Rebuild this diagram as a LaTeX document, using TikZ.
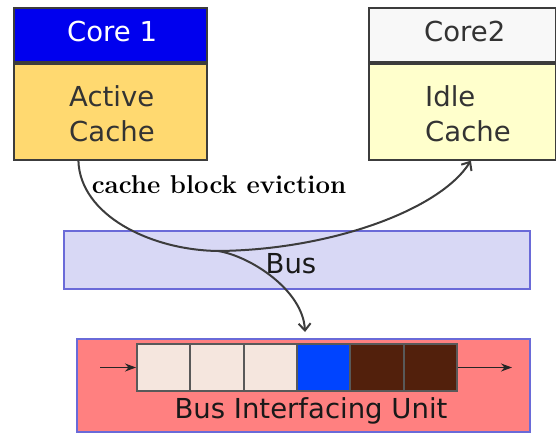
\documentclass[tikz,border=0pt]{standalone}
\usepackage{fontspec}
\newfontfamily\diagfont{DejaVu Sans}
\definecolor{coreblue}{HTML}{0000EE}
\definecolor{activegold}{HTML}{FFD970}
\definecolor{idlecream}{HTML}{FFFFCC}
\definecolor{headgray}{HTML}{F8F8F8}
\definecolor{buslilac}{HTML}{D8D8F5}
\definecolor{biured}{HTML}{FF8080}
\definecolor{edgeblue}{HTML}{6A6AD8}
\definecolor{slotpale}{HTML}{F5E6DE}
\definecolor{slotblue}{HTML}{0044FF}
\definecolor{slotbrown}{HTML}{52200C}
\definecolor{inkgray}{HTML}{3C3C3C}
\usetikzlibrary{arrows.meta,positioning,calc}

\begin{document}
\begin{tikzpicture}[x=1pt,y=-1pt,
  box/.style={rectangle, draw=inkgray, line width=1.8pt, inner sep=0pt, anchor=north west},
  bar/.style={rectangle, draw=edgeblue, line width=2pt, inner sep=0pt},
  slot/.style={rectangle, draw=black!65, line width=2pt, minimum width=53.33pt, minimum height=47pt, inner sep=0pt},
  txt/.style={font=\diagfont\fontsize{27.5}{35}\selectfont, text=black!80, inner sep=0pt, align=left},
  evict/.style={draw=inkgray, line width=2pt, -{Straight Barb[length=7pt,width=12pt,line width=2pt]}},
  flow/.style={draw=black!85, line width=1.4pt, -{Stealth[length=11pt,width=8pt]}}]
\useasboundingbox (0,0) rectangle (556,435);
\node[box, fill=coreblue, minimum width=193pt, minimum height=54pt] (c1head) at (13,7) {};
\node[box, fill=activegold, minimum width=193pt, minimum height=96pt] (c1body) at (c1head.south west) {};
\node[box, fill=headgray, minimum width=187pt, minimum height=54pt] (c2head) at (368,7) {};
\node[box, fill=idlecream, minimum width=187pt, minimum height=96pt] (c2body) at (c2head.south west) {};
\node[txt, text=white, anchor=base west] (c1name) at ($(c1head.west)+(54,7)$) {Core 1};
\node[txt, anchor=west] (c1text) at ($(c1body.west)+(56,2)$) {Active\\Cache};
\node[txt, anchor=base west] (c2name) at ($(c2head.west)+(56,7)$) {Core2};
\node[txt, anchor=west] (c2text) at ($(c2body.west)+(57,2)$) {Idle\\Cache};
\node[font=\bfseries\fontsize{25.8}{30}\selectfont] (evictlabel) at (219,185) {cache block eviction};
\node[bar, fill=buslilac, minimum width=466pt, minimum height=58pt] (bus) at (297,260) {};
\node[txt, text=black!90] (buslabel) at (291,263.5) {Bus};
\node[bar, fill=biured, minimum width=453pt, minimum height=93pt] (biu) at (303.5,385.5) {};
\foreach \k/\shade in {0/slotpale,1/slotpale,2/slotpale,3/slotblue,4/slotbrown,5/slotbrown}
  \node[slot, fill=\shade] (s\k) at (163.67+53.33*\k,367.5) {};
\node[txt, text=black!90] (biulabel) at (311,411) {Bus Interfacing Unit};
\coordinate (qin) at (100,367.5);
\coordinate (qout) at (512,367.5);
\draw[flow] (qin) -- (s0.west);
\draw[flow] (s5.east) -- (qout);
\coordinate (split) at (218,251);
\draw[evict] ([xshift=-32pt]c1body.south) .. controls (80,215) and (150,250) .. (split)
  .. controls (330,250) and (440,210) .. ([xshift=8.5pt]c2body.south);
\draw[evict] (split) .. controls (250,256) and (303,290) .. ([xshift=1.5pt,yshift=6pt]biu.north);
\end{tikzpicture}
\end{document}
